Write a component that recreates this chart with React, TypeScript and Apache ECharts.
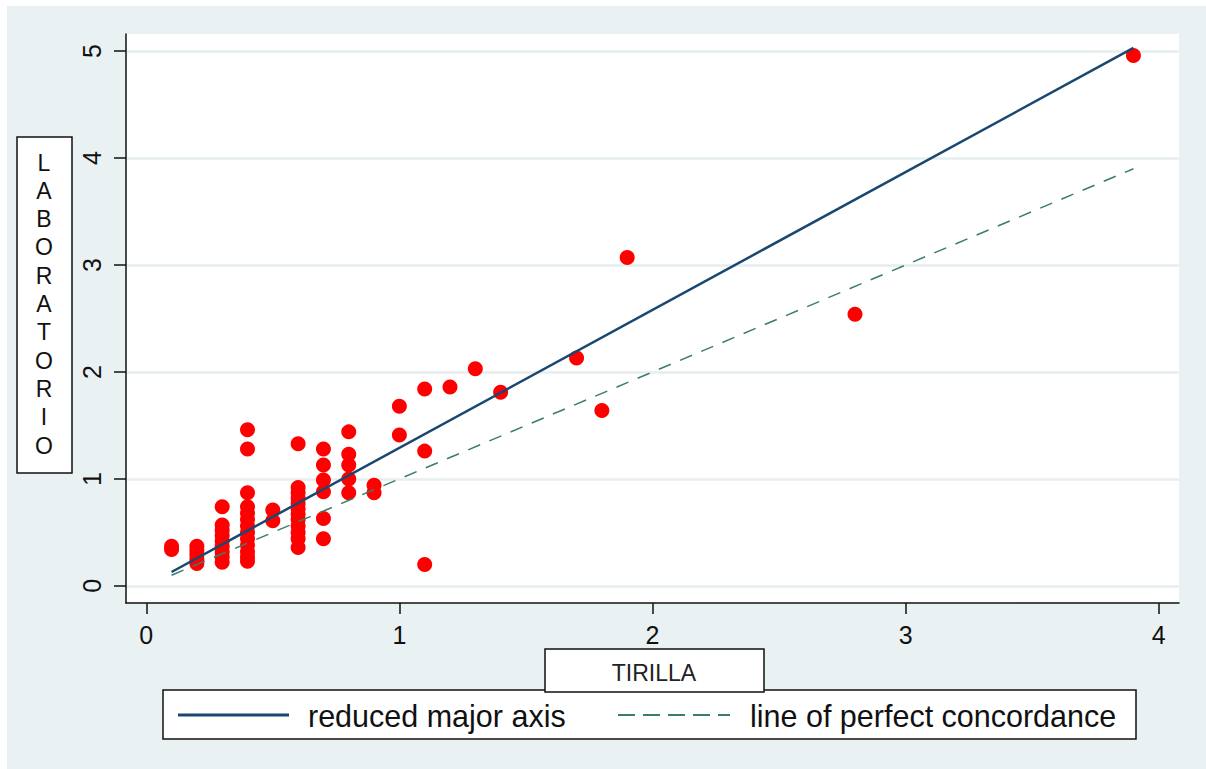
import React, { useEffect, useRef } from "react";
import * as echarts from "echarts";

// ---- data ----
const xTicks = [0, 1, 2, 3, 4];
const yTicks = [0, 1, 2, 3, 4, 5];

const tirilla = [
  0.1, 0.1,
  0.2, 0.2, 0.2, 0.2, 0.2,
  0.3, 0.3, 0.3, 0.3, 0.3, 0.3, 0.3, 0.3, 0.3,
  0.4, 0.4, 0.4, 0.4, 0.4, 0.4, 0.4, 0.4, 0.4, 0.4, 0.4, 0.4, 0.4,
  0.5, 0.5,
  0.6, 0.6, 0.6, 0.6, 0.6, 0.6, 0.6, 0.6, 0.6, 0.6, 0.6, 0.6,
  0.7, 0.7, 0.7, 0.7, 0.7, 0.7,
  0.8, 0.8, 0.8, 0.8, 0.8,
  0.9, 0.9,
  1.0, 1.0,
  1.1, 1.1, 1.1,
  1.2, 1.3, 1.4, 1.7, 1.8, 1.9, 2.8, 3.9,
];
const laboratorio = [
  0.37, 0.34,
  0.37, 0.33, 0.29, 0.25, 0.21,
  0.74, 0.57, 0.52, 0.47, 0.42, 0.37, 0.32, 0.27, 0.22,
  1.46, 1.28, 0.87, 0.74, 0.68, 0.62, 0.56, 0.5, 0.44, 0.38, 0.32, 0.27, 0.23,
  0.71, 0.61,
  1.33, 0.92, 0.87, 0.82, 0.77, 0.72, 0.67, 0.62, 0.56, 0.5, 0.44, 0.36,
  1.28, 1.13, 0.99, 0.88, 0.63, 0.44,
  1.44, 1.23, 1.13, 1.0, 0.87,
  0.94, 0.87,
  1.68, 1.41,
  1.84, 1.26, 0.2,
  1.86, 2.03, 1.81, 2.13, 1.64, 3.07, 2.54, 4.96,
];

const rmaX = [0.1, 3.9];
const rmaY = [0.13, 5.03];
const concX = [0.1, 3.9];
const concY = [0.1, 3.9];

const xTitle = "TIRILLA";
const yTitle = "LABORATORIO";
const legendNames = ["reduced major axis", "line of perfect concordance"];

const NAVY = "#1A476F";
const TEAL = "#3B7B70";
const FONT = "'Liberation Sans', Arial, sans-serif";

export default function App() {
  const ref = useRef<HTMLDivElement>(null);

  useEffect(() => {
    document.body.style.margin = "0";
    if (!ref.current) return;
    const chart = echarts.init(ref.current, undefined, { renderer: "svg" });

    const points = tirilla.map((x, i) => [x, laboratorio[i]]);
    const rma = rmaX.map((x, i) => [x, rmaY[i]]);
    const conc = concX.map((x, i) => [x, concY[i]]);

    chart.setOption({
      animation: false,
      backgroundColor: "#E9F1F3",
      textStyle: { fontFamily: FONT },
      grid: {
        left: 126,
        right: 27,
        top: 34,
        bottom: 166,
        show: true,
        backgroundColor: "#ffffff",
        borderWidth: 0,
      },
      xAxis: {
        type: "value",
        min: -0.08,
        max: 4.08,
        axisLine: { show: true, onZero: false, lineStyle: { color: "#111", width: 1.5 } },
        axisTick: { show: true, length: 11, customValues: xTicks, lineStyle: { color: "#111", width: 1.5 } },
        axisLabel: { customValues: xTicks, fontSize: 25, color: "#111", margin: 19, fontFamily: FONT },
        splitLine: { show: false },
      },
      yAxis: {
        type: "value",
        min: -0.16,
        max: 5.16,
        axisLine: { show: true, onZero: false, lineStyle: { color: "#111", width: 1.5 } },
        axisTick: { show: true, length: 12, customValues: yTicks, lineStyle: { color: "#111", width: 1.5 } },
        axisLabel: { customValues: yTicks, fontSize: 25, color: "#111", margin: 22, rotate: 90, fontFamily: FONT },
        splitLine: { show: true, lineStyle: { color: "#E6EEF0", width: 2.5 } },
      },
      series: [
        {
          type: "scatter",
          data: points,
          symbol: "circle",
          symbolSize: 15,
          itemStyle: { color: "#FF0000", opacity: 1 },
          silent: true,
          z: 2,
        },
        {
          type: "line",
          name: legendNames[0],
          data: rma,
          showSymbol: false,
          lineStyle: { color: NAVY, width: 2.5 },
          silent: true,
          z: 3,
        },
        {
          type: "line",
          name: legendNames[1],
          data: conc,
          showSymbol: false,
          lineStyle: { color: TEAL, width: 1.5, type: [13, 10] },
          silent: true,
          z: 3,
        },
      ],
      graphic: [
        { type: "rect", shape: { x: 0, y: 0, width: 7, height: 769 }, style: { fill: "#fff" }, silent: true },
        { type: "rect", shape: { x: 0, y: 0, width: 1206, height: 6 }, style: { fill: "#fff" }, silent: true },
        // y title
        {
          type: "rect",
          shape: { x: 17, y: 137, width: 55, height: 336 },
          style: { fill: "#fff", stroke: "#111", lineWidth: 1.5 },
          silent: true,
        },
        {
          type: "text",
          x: 44,
          y: 304,
          style: {
            text: yTitle.split("").join("\n"),
            fill: "#111",
            font: `23px ${FONT}`,
            lineHeight: 28.3,
            align: "center",
            verticalAlign: "middle",
          },
          silent: true,
        },
        // legend
        {
          type: "rect",
          shape: { x: 163, y: 690, width: 973, height: 49 },
          style: { fill: "#fff", stroke: "#111", lineWidth: 1.5 },
          silent: true,
        },
        {
          type: "line",
          shape: { x1: 178, y1: 715, x2: 289, y2: 715 },
          style: { stroke: NAVY, lineWidth: 3 },
          silent: true,
        },
        {
          type: "text",
          x: 308,
          y: 716,
          style: { text: legendNames[0], fill: "#111", font: `30.5px ${FONT}`, align: "left", verticalAlign: "middle" },
          silent: true,
        },
        {
          type: "line",
          shape: { x1: 618, y1: 715, x2: 730, y2: 715 },
          style: { stroke: TEAL, lineWidth: 2, lineDash: [17, 8] },
          silent: true,
        },
        {
          type: "text",
          x: 750,
          y: 716,
          style: { text: legendNames[1], fill: "#111", font: `30.5px ${FONT}`, align: "left", verticalAlign: "middle" },
          silent: true,
        },
        // x title
        {
          type: "rect",
          shape: { x: 545, y: 649, width: 219, height: 43 },
          style: { fill: "#fff", stroke: "#111", lineWidth: 1.5 },
          silent: true,
        },
        {
          type: "text",
          x: 654,
          y: 673,
          style: { text: xTitle, fill: "#222", font: `23px ${FONT}`, align: "center", verticalAlign: "middle" },
          silent: true,
        },
      ],
    });

    return () => chart.dispose();
  }, []);

  return <div ref={ref} style={{ width: 1206, height: 769 }} />;
}
